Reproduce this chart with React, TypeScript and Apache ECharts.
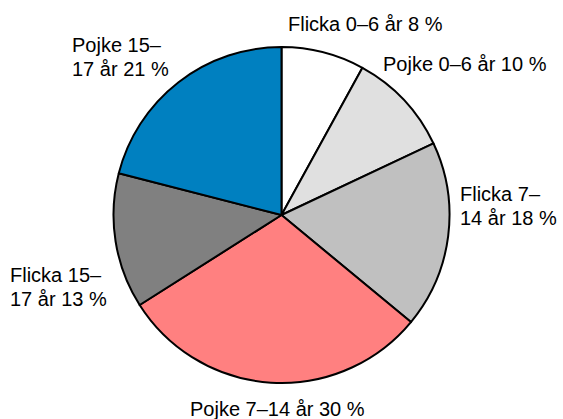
import React, { useEffect, useRef } from "react";
import * as echarts from "echarts";

const categories = [
  "Flicka 0–6 år",
  "Pojke 0–6 år",
  "Flicka 7–14 år",
  "Pojke 7–14 år",
  "Flicka 15–17 år",
  "Pojke 15–17 år",
];
const values = [8, 10, 18, 30, 13, 21];
const labelTexts = [
  "Flicka 0–6 år 8 %",
  "Pojke 0–6 år 10 %",
  "Flicka 7–\n14 år 18 %",
  "Pojke 7–14 år 30 %",
  "Flicka 15–\n17 år 13 %",
  "Pojke 15–\n17 år 21 %",
];
const colors = ["#ffffff", "#e0e0e0", "#c0c0c0", "#ff8080", "#808080", "#0080c0"];
const labelPos: [number, number][] = [
  [288, 12],
  [383, 52],
  [460, 182],
  [190, 397],
  [10, 263],
  [72, 33],
];

export default function App() {
  const ref = useRef<HTMLDivElement>(null);
  useEffect(() => {
    if (!ref.current) return;
    const chart = echarts.init(ref.current, null, { renderer: "svg" });
    chart.setOption({
      animation: false,
      backgroundColor: "#ffffff",
      series: [
        {
          type: "pie",
          center: [281.5, 215],
          radius: 168,
          startAngle: 90,
          clockwise: true,
          silent: true,
          emphasis: { disabled: true },
          itemStyle: { borderColor: "#000000", borderWidth: 2 },
          label: {
            show: true,
            position: "outside",
            color: "#000000",
            fontFamily: "'Liberation Sans', Arial, sans-serif",
            fontSize: 20,
            lineHeight: 24,
            overflow: "none",
            formatter: (p: any) => labelTexts[p.dataIndex],
          },
          labelLine: { show: false },
          labelLayout: (p: any) => ({
            x: labelPos[p.dataIndex][0],
            y: labelPos[p.dataIndex][1],
            align: "left",
            verticalAlign: "top",
            width: 200,
          }),
          data: categories.map((name, i) => ({
            name,
            value: values[i],
            itemStyle: { color: colors[i] },
          })),
        },
      ],
    });
    return () => chart.dispose();
  }, []);
  return (
    <div
      ref={ref}
      style={{ position: "absolute", left: 0, top: 0, width: 563, height: 419 }}
    />
  );
}
